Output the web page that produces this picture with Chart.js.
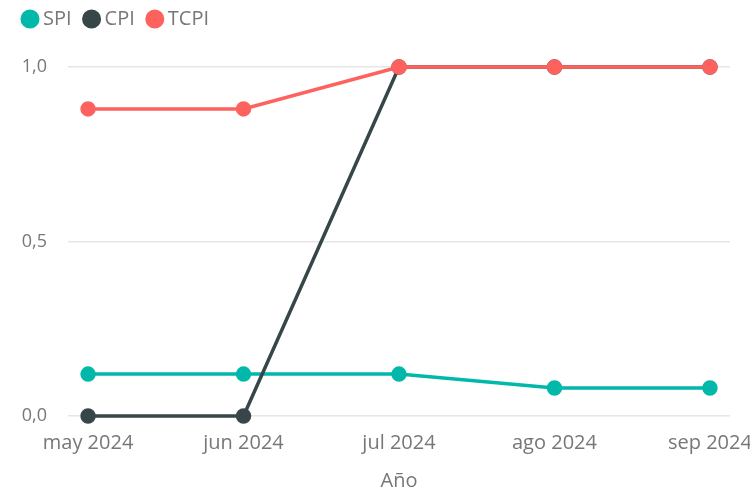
<!DOCTYPE html>
<html>
<head>
<meta charset="utf-8">
<script src="https://cdn.jsdelivr.net/npm/chart.js@4/dist/chart.umd.min.js"></script>
<style>
    html, body { margin: 0; padding: 0; background: #fff; overflow: hidden; }
    #wrap { width: 770px; height: 492px; }
</style>
</head>
<body>
<div id="wrap"><canvas id="indices-chart"></canvas></div>
<script>
// Índices mensuales
const meses = ['may 2024', 'jun 2024', 'jul 2024', 'ago 2024', 'sep 2024'];
const spi = [0.12, 0.12, 0.12, 0.08, 0.08];
const cpi = [0, 0, 1, 1, 1];
const tcpi = [0.88, 0.88, 1, 1, 1];
const yTicks = [0, 0.5, 1];

const FONT = "'Open Sans', 'Noto Sans', sans-serif";
const GRIS = '#777777';

function serie(valores) {
    return valores.map((v, i) => ({ x: i, y: v }));
}

function lineDataset(label, valores, color, order) {
    return {
        label: label,
        data: serie(valores),
        borderColor: color,
        backgroundColor: color,
        pointBackgroundColor: color,
        pointBorderColor: color,
        borderWidth: 3.5,
        pointRadius: 6,
        pointHoverRadius: 6,
        tension: 0,
        clip: false,
        order: order
    };
}

// espacio extra debajo de la leyenda
const legendGap = {
    id: 'legendGap',
    beforeLayout(chart) {
        const legend = chart.legend;
        if (!legend || legend._gapPatched) return;
        const fit = legend.fit;
        legend.fit = function () {
            fit.call(this);
            this.height += 28;
        };
        legend._gapPatched = true;
    }
};

const ctx = document.getElementById('indices-chart');

new Chart(ctx, {
    type: 'line',
    data: {
        datasets: [
            lineDataset('SPI', spi, '#01B8AA', 2),
            lineDataset('CPI', cpi, '#374649', 1),
            lineDataset('TCPI', tcpi, '#FD625E', 0)
        ]
    },
    plugins: [legendGap],
    options: {
        responsive: true,
        maintainAspectRatio: false,
        animation: false,
        layout: {
            padding: { top: -8, left: 10, right: 40, bottom: -1 }
        },
        plugins: {
            tooltip: { enabled: false },
            legend: {
                position: 'top',
                align: 'start',
                labels: {
                    usePointStyle: true,
                    pointStyle: 'circle',
                    boxWidth: 6,
                    boxHeight: 11,
                    padding: 17,
                    color: GRIS,
                    font: { family: FONT, size: 20 },
                    sort: (a, b) => a.datasetIndex - b.datasetIndex
                }
            }
        },
        scales: {
            x: {
                type: 'linear',
                min: -0.129,
                max: 4.129,
                afterBuildTicks: (scale) => {
                    scale.ticks = meses.map((m, i) => ({ value: i }));
                },
                grid: { display: false, drawTicks: false },
                border: { display: false },
                ticks: {
                    autoSkip: false,
                    maxRotation: 0,
                    padding: 15,
                    color: GRIS,
                    font: { family: FONT, size: 20 },
                    callback: (value) => meses[value]
                },
                title: {
                    display: true,
                    text: 'Año',
                    color: GRIS,
                    font: { family: FONT, size: 20 },
                    padding: { top: -1, bottom: 0 }
                }
            },
            y: {
                min: 0,
                max: 1,
                afterBuildTicks: (scale) => {
                    scale.ticks = yTicks.map(v => ({ value: v }));
                },
                afterFit: (scale) => {
                    scale.width = 58;
                },
                grid: { color: '#e6e6e6', lineWidth: 1.5, drawTicks: false },
                border: { display: false },
                ticks: {
                    padding: 21,
                    color: GRIS,
                    font: { family: FONT, size: 18 },
                    callback: (value) => value.toFixed(1).replace('.', ',')
                }
            }
        }
    }
});
</script>
</body>
</html>
